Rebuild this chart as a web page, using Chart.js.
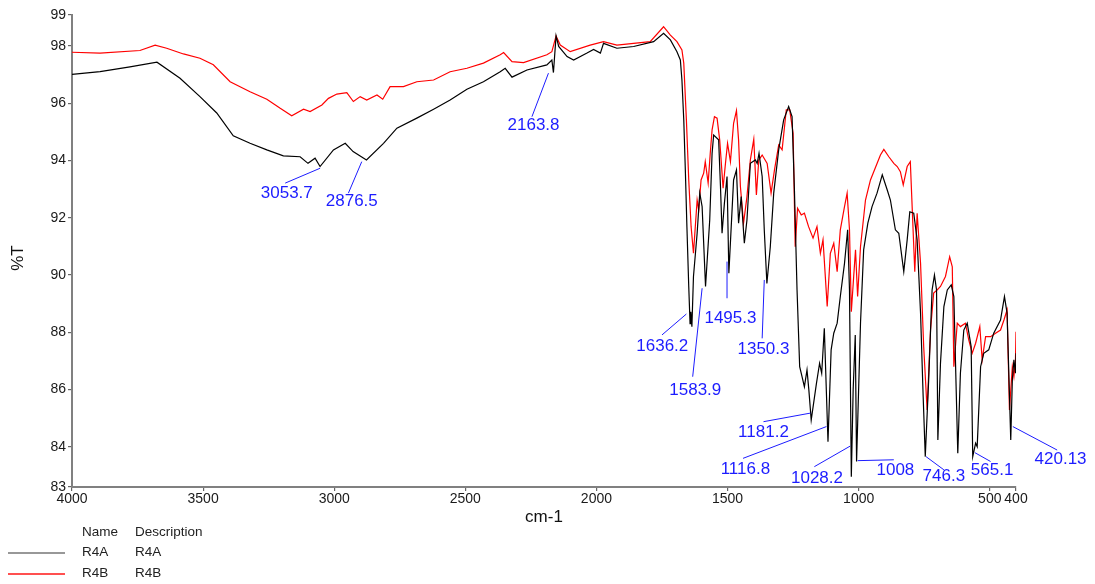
<!DOCTYPE html>
<html><head><meta charset="utf-8">
<script src="https://cdn.jsdelivr.net/npm/chart.js@4.4.1/dist/chart.umd.min.js"></script>
<style>html,body{margin:0;padding:0;background:#fff;}canvas{display:block;}</style>
</head><body>
<canvas id="c" width="1095" height="584"></canvas>
<script>
// ---- data ----
const wavenumbersA = [4000,3893,3779,3676,3588,3512,3448,3385,3321,3257,3194,3130,3100,3073,3054,3003,2958,2928,2877,2812,2761,2685,2621,2558,2494,2431,2367,2348,2322,2265,2189,2170,2164,2154,2144,2112,2087,2036,2011,1985,1973,1922,1858,1782,1744,1718,1693,1680,1674,1667,1661,1655,1648,1643,1640,1636,1630,1616,1606,1597,1584,1568,1559,1553,1534,1527,1521,1512,1502,1495,1477,1466,1458,1448,1436,1426,1413,1394,1387,1380,1368,1360,1350,1337,1324,1305,1286,1267,1254,1245,1235,1225,1216,1207,1197,1190,1181,1161,1149,1141,1131,1117,1105,1095,1082,1070,1054,1042,1035,1028,1021,1013,1008,993,981,965,949,930,910,891,879,860,847,828,815,805,790,777,764,754,746,733,720,711,703,698,688,675,662,647,637,622,612,599,586,571,565,554,548,535,523,504,485,459,444,434,420,414,408,402,400];
const transmittanceA = [97.01,97.10,97.27,97.43,96.87,96.23,95.66,94.86,94.60,94.37,94.16,94.13,93.90,94.08,93.79,94.37,94.60,94.31,94.02,94.60,95.13,95.48,95.79,96.11,96.49,96.75,97.10,97.22,96.91,97.16,97.34,97.51,97.07,98.35,97.98,97.63,97.51,97.75,97.88,97.75,98.09,97.92,97.98,98.15,98.44,98.21,97.80,97.51,96.81,95.42,93.67,91.69,89.60,88.30,88.72,88.20,89.95,91.46,92.86,92.39,89.60,91.92,94.25,94.89,94.72,93.09,91.46,92.51,93.44,90.06,93.32,93.67,91.81,92.74,91.11,91.92,93.90,94.02,93.90,94.25,93.44,91.58,89.71,90.99,92.86,94.37,95.42,95.88,95.53,92.97,89.48,86.80,86.45,86.10,86.69,85.99,84.94,86.22,86.92,86.57,88.14,84.18,87.39,87.97,88.32,89.25,90.41,91.58,89.48,82.96,85.99,87.91,83.49,88.32,90.88,91.81,92.39,92.86,93.50,92.97,92.62,91.58,91.46,90.12,91.23,92.21,92.16,91.23,88.67,85.75,83.66,86.34,89.48,90.00,89.48,84.24,86.92,88.90,89.48,89.66,89.25,83.78,86.57,88.08,88.32,87.50,83.66,84.13,84.01,86.80,87.27,87.39,87.97,88.43,89.25,88.67,84.24,86.34,87.04,86.57,87.27];

const wavenumbersB = [4000,3893,3741,3683,3639,3575,3512,3461,3397,3321,3257,3206,3162,3117,3092,3047,3022,2990,2952,2927,2901,2876,2837,2815,2787,2736,2685,2621,2558,2494,2431,2367,2354,2322,2278,2189,2170,2154,2138,2100,2024,1973,1922,1795,1744,1718,1693,1674,1667,1657,1648,1639,1630,1616,1610,1601,1591,1585,1574,1566,1559,1550,1540,1530,1517,1508,1500,1489,1477,1466,1458,1451,1439,1426,1413,1400,1390,1381,1368,1349,1334,1321,1305,1292,1276,1263,1250,1242,1233,1219,1207,1191,1174,1159,1146,1136,1120,1108,1095,1082,1070,1054,1044,1035,1028,1019,1012,1004,993,974,955,917,904,885,866,853,841,830,815,803,786,777,764,752,739,726,714,701,688,669,653,643,637,624,612,593,580,567,554,538,529,516,497,478,459,446,434,425,414,408,402,400];
const transmittanceB = [97.78,97.75,97.84,98.03,97.92,97.72,97.57,97.34,96.75,96.40,96.14,95.82,95.56,95.79,95.71,95.94,96.17,96.32,96.37,96.06,96.23,96.11,96.29,96.14,96.58,96.58,96.75,96.81,97.10,97.22,97.40,97.69,97.77,97.45,97.42,97.69,97.80,98.35,98.03,97.80,98.03,98.15,98.03,98.15,98.67,98.38,98.15,97.86,97.40,95.42,93.32,91.69,90.76,92.62,92.27,93.32,93.56,93.96,93.21,94.25,95.07,95.53,95.48,94.72,93.03,93.90,94.60,93.96,95.30,95.74,94.72,93.09,91.81,92.74,94.02,94.74,92.80,94.02,94.19,93.90,92.86,93.67,94.54,94.37,95.77,95.77,94.95,90.99,92.33,92.10,92.16,91.69,91.29,91.69,90.76,91.23,88.90,90.76,91.11,90.12,91.58,92.39,92.86,91.58,88.72,89.95,90.88,89.25,90.99,92.62,93.32,94.19,94.39,94.13,93.90,93.79,93.61,93.15,93.79,93.96,90.12,92.16,90.41,87.50,85.29,88.08,89.37,89.48,89.60,89.95,90.64,90.29,86.80,88.32,88.20,88.32,87.73,87.27,87.62,88.20,87.04,87.85,87.85,87.97,88.08,88.43,88.78,85.29,86.80,86.45,87.04,88.02];

const seriesNames = ['R4A', 'R4B'];
const seriesDescriptions = ['R4A', 'R4B'];
const xTickValues = [4000, 3500, 3000, 2500, 2000, 1500, 1000, 500, 400];
const yTickValues = [84, 86, 88, 90, 92, 94, 96, 98];
const xMin = 400, xMax = 4000;
const yMin = 82.6, yMax = 99.08;

const peakLabels = ['3053.7','2876.5','2163.8','1636.2','1583.9','1495.3','1350.3','1181.2','1116.8','1028.2','1008','746.3','565.1','420.13'];
// leader layout in data units: [startWn, startT, endWn, endT, textWn, textT]
const peakLayout = [
  [3053.7, 93.73, 3187, 93.21, 3181, 92.86],
  [2895, 93.96, 2946, 92.86, 2933, 92.56],
  [2183, 97.05, 2246, 95.53, 2240, 95.24],
  [1657, 88.64, 1750, 87.91, 1749, 87.50],
  [1597, 89.54, 1633, 86.45, 1623, 85.99],
  [1502, 90.47, 1502, 89.19, 1489, 88.49],
  [1360, 89.83, 1368, 87.79, 1363, 87.39],
  [1184, 85.18, 1363, 84.88, 1363, 84.51],
  [1123, 84.71, 1441, 83.60, 1432, 83.22],
  [1032, 84.03, 1169, 83.31, 1159, 82.91],
  [1004, 83.52, 866, 83.55, 860, 83.20],
  [743, 83.66, 675, 83.20, 675, 82.96],
  [557, 83.80, 497, 83.49, 491, 83.20],
  [412, 84.71, 243, 83.89, 230, 83.55]
];

// ---- chart ----
const FAM = "'Liberation Sans', Arial, sans-serif";
const toPts = (w, t) => w.map((v, i) => ({x: v, y: t[i]}));

const extras = {
  id: 'extras',
  afterDraw(chart) {
    const {ctx, scales: {x, y}} = chart;
    ctx.save();
    // peak labels
    ctx.strokeStyle = '#1c1cff';
    ctx.fillStyle = '#1c1cff';
    ctx.lineWidth = 1;
    ctx.font = '17px ' + FAM;
    ctx.textAlign = 'center';
    ctx.textBaseline = 'middle';
    peakLabels.forEach((lab, i) => {
      const [sw, st, ew, et, tw, tt] = peakLayout[i];
      ctx.beginPath();
      ctx.moveTo(x.getPixelForValue(sw), y.getPixelForValue(st));
      ctx.lineTo(x.getPixelForValue(ew), y.getPixelForValue(et));
      ctx.stroke();
      ctx.fillText(lab, x.getPixelForValue(tw), y.getPixelForValue(tt));
    });
    // axis titles
    ctx.fillStyle = '#111';
    ctx.font = '17px ' + FAM;
    ctx.fillText('cm-1', (x.left + x.right) / 2, 517);
    ctx.save();
    ctx.translate(18, 258);
    ctx.rotate(-Math.PI / 2);
    ctx.fillText('%T', 0, 0);
    ctx.restore();
    // legend table
    ctx.font = '13.5px ' + FAM;
    ctx.textAlign = 'left';
    ctx.fillStyle = '#222';
    ctx.fillText('Name', 82, 532);
    ctx.fillText('Description', 135, 532);
    const rowsY = [552, 573];
    const cols = ['#333333', '#ff5050'];
    const widths = [1.2, 2];
    seriesNames.forEach((n, i) => {
      ctx.strokeStyle = cols[i];
      ctx.lineWidth = widths[i];
      ctx.beginPath();
      ctx.moveTo(8, rowsY[i] + 1);
      ctx.lineTo(65, rowsY[i] + 1);
      ctx.stroke();
      ctx.fillStyle = '#222';
      ctx.fillText(n, 82, rowsY[i]);
      ctx.fillText(seriesDescriptions[i], 135, rowsY[i]);
    });
    ctx.restore();
  }
};

new Chart(document.getElementById('c'), {
  type: 'line',
  data: {
    datasets: [
      {label: seriesNames[0], data: toPts(wavenumbersA, transmittanceA), borderColor: '#000000', borderWidth: 1.2, pointRadius: 0, tension: 0, fill: false},
      {label: seriesNames[1], data: toPts(wavenumbersB, transmittanceB), borderColor: '#ff0000', borderWidth: 1.2, pointRadius: 0, tension: 0, fill: false}
    ]
  },
  options: {
    responsive: false,
    animation: false,
    layout: {padding: {left: 0, right: 79, top: 15, bottom: 0}},
    plugins: {legend: {display: false}, tooltip: {enabled: false}, title: {display: false}},
    scales: {
      x: {
        type: 'linear', reverse: true, min: xMin, max: xMax,
        afterBuildTicks: s => { s.ticks = xTickValues.map(v => ({value: v})); },
        afterFit: s => { s.height = 97; s.paddingLeft = 0; s.paddingRight = 0; },
        ticks: {autoSkip: false, maxRotation: 0, minRotation: 0, color: '#1a1a1a', padding: 0, font: {family: FAM, size: 14}, callback: v => String(v)},
        grid: {display: true, drawOnChartArea: false, drawTicks: true, tickLength: 4, color: '#666', lineWidth: 1.2},
        border: {display: true, color: '#808080', width: 2}
      },
      y: {
        type: 'linear', min: yMin, max: yMax,
        afterBuildTicks: s => { s.ticks = [yMin, ...yTickValues, yMax].map(v => ({value: v})); },
        afterFit: s => { s.width = 72; s.paddingTop = 0; s.paddingBottom = 0; },
        ticks: {autoSkip: false, color: '#1a1a1a', padding: 2, font: {family: FAM, size: 14}, callback: v => String(Math.round(v))},
        grid: {display: true, drawOnChartArea: false, drawTicks: true, tickLength: 4, color: '#666', lineWidth: 1.2},
        border: {display: true, color: '#808080', width: 2}
      }
    }
  },
  plugins: [extras]
});
</script>
</body></html>
